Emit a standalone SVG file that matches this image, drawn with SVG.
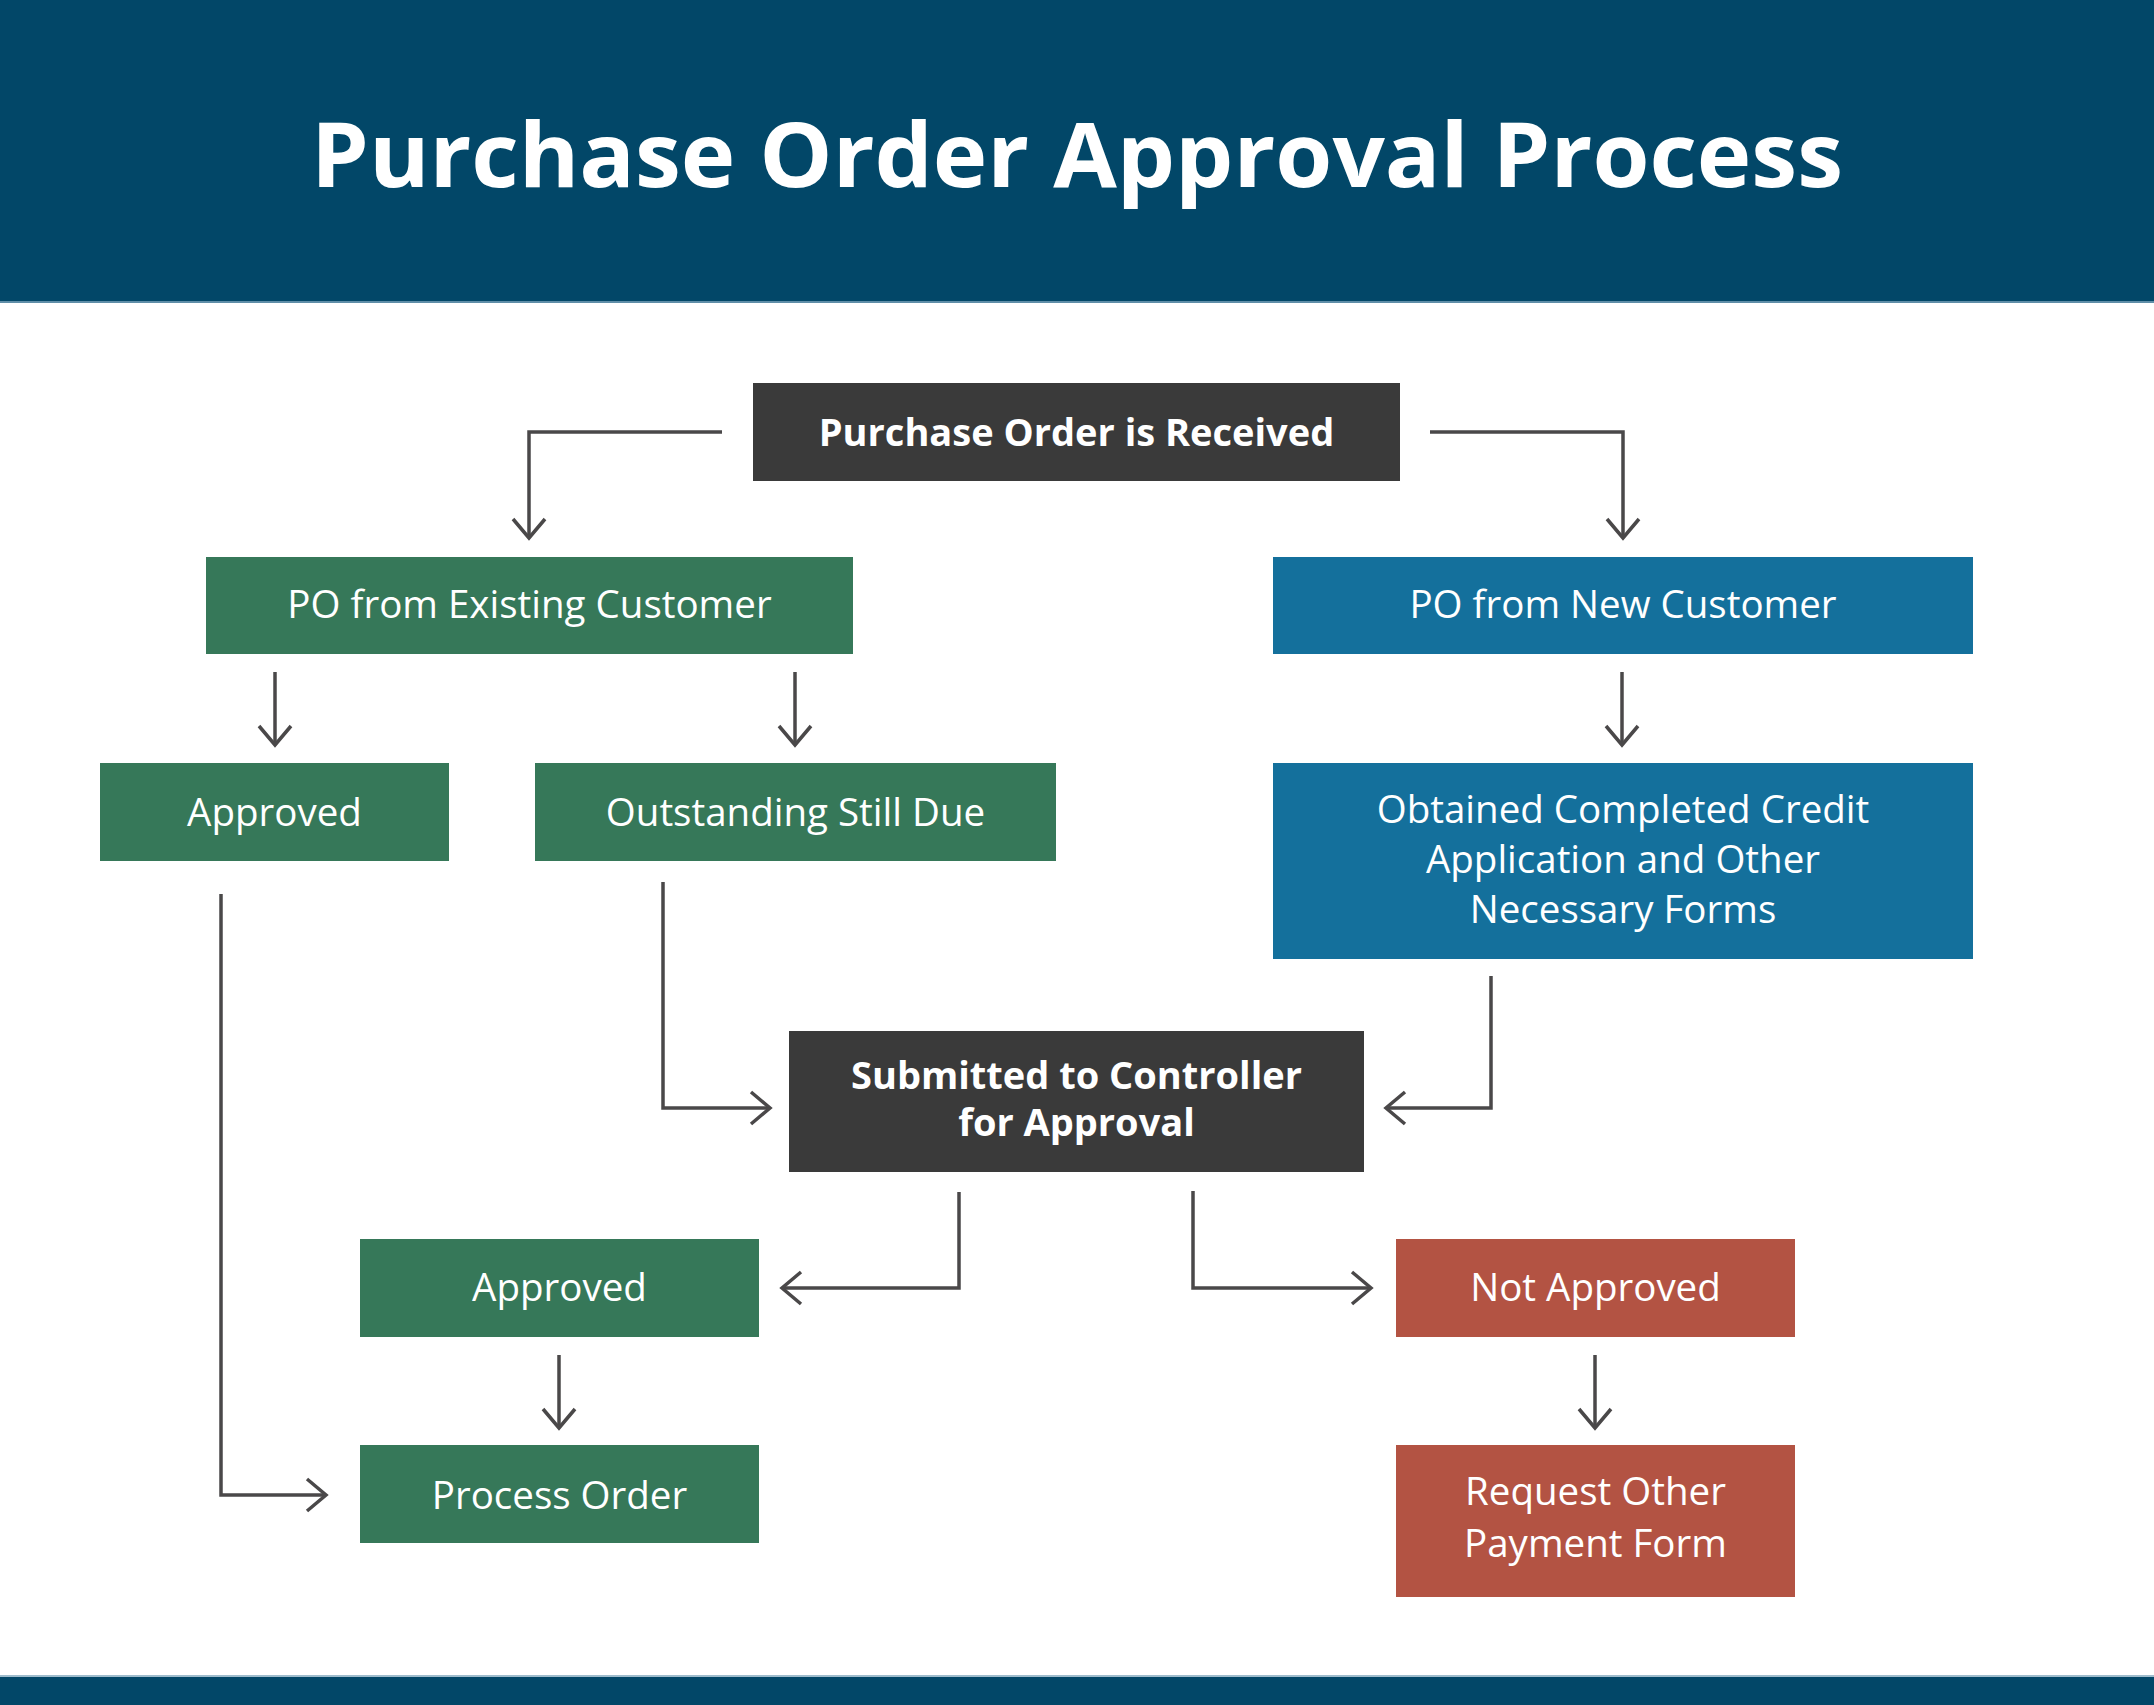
<svg xmlns="http://www.w3.org/2000/svg" width="2154" height="1705" viewBox="0 0 2154 1705">
  <defs>
    <style>
      .t { font-family: "Open Sans", "Liberation Sans", sans-serif; fill: #ffffff; text-anchor: middle; }
      .reg { font-size: 38.5px; font-weight: 400; }
      .bold { font-size: 38px; font-weight: 700; }
      .title { font-size: 90px; font-weight: 700; }
      .green { fill: #367859; }
      .blue { fill: #14709C; }
      .red { fill: #B35343; }
      .dark { fill: #3A3A3A; }
      .conn { fill: none; stroke: #4A4849; stroke-width: 3.5; marker-end: url(#arr); }
    </style>
    <marker id="arr" viewBox="-24 -19 27 38" refX="0" refY="0" markerWidth="27" markerHeight="38" markerUnits="userSpaceOnUse" orient="auto">
      <path d="M-19,-16 L0,0 L-19,16" fill="none" stroke="#4A4849" stroke-width="3.5"/>
    </marker>
  </defs>

  <rect x="0" y="0" width="2154" height="1705" fill="#ffffff"/>

  <g id="header">
    <rect x="0" y="0" width="2154" height="302" fill="#024768"/>
    <rect x="0" y="301" width="2154" height="2" fill="#5f8ea8"/>
    <text class="t title" x="1077" y="187" textLength="1532" lengthAdjust="spacingAndGlyphs">Purchase Order Approval Process</text>
  </g>

  <g id="footer">
    <rect x="0" y="1676" width="2154" height="29" fill="#024768"/>
    <rect x="0" y="1675" width="2154" height="2" fill="#9fbccc"/>
  </g>

  <g id="connectors">
    <path class="conn" d="M722,432 H529 V538"/>
    <path class="conn" d="M1430,432 H1623 V538"/>
    <path class="conn" d="M275,672 V745"/>
    <path class="conn" d="M795,672 V745"/>
    <path class="conn" d="M1622,672 V745"/>
    <path class="conn" d="M221,894 V1495 H326"/>
    <path class="conn" d="M663,882 V1108 H770"/>
    <path class="conn" d="M1491,976 V1108 H1386"/>
    <path class="conn" d="M959,1192 V1288 H782"/>
    <path class="conn" d="M1193,1191 V1288 H1371"/>
    <path class="conn" d="M559,1355 V1428"/>
    <path class="conn" d="M1595,1355 V1428"/>
  </g>

  <g id="po-received">
    <rect class="dark" x="753" y="383" width="647" height="98"/>
    <text class="t bold" x="1076.5" y="446">Purchase Order is Received</text>
  </g>

  <g id="po-existing">
    <rect class="green" x="206" y="557" width="647" height="97"/>
    <text class="t reg" x="529.5" y="618">PO from Existing Customer</text>
  </g>

  <g id="po-new">
    <rect class="blue" x="1273" y="557" width="700" height="97"/>
    <text class="t reg" x="1623" y="618">PO from New Customer</text>
  </g>

  <g id="approved-1">
    <rect class="green" x="100" y="763" width="349" height="98"/>
    <text class="t reg" x="274.5" y="826">Approved</text>
  </g>

  <g id="outstanding">
    <rect class="green" x="535" y="763" width="521" height="98"/>
    <text class="t reg" x="795.5" y="826">Outstanding Still Due</text>
  </g>

  <g id="obtained">
    <rect class="blue" x="1273" y="763" width="700" height="196"/>
    <text class="t reg" x="1623" y="823">Obtained Completed Credit</text>
    <text class="t reg" x="1623" y="873">Application and Other</text>
    <text class="t reg" x="1623" y="923">Necessary Forms</text>
  </g>

  <g id="submitted">
    <rect class="dark" x="789" y="1031" width="575" height="141"/>
    <text class="t bold" x="1076.5" y="1089">Submitted to Controller</text>
    <text class="t bold" x="1076.5" y="1136">for Approval</text>
  </g>

  <g id="approved-2">
    <rect class="green" x="360" y="1239" width="399" height="98"/>
    <text class="t reg" x="559.5" y="1301">Approved</text>
  </g>

  <g id="not-approved">
    <rect class="red" x="1396" y="1239" width="399" height="98"/>
    <text class="t reg" x="1595.5" y="1301">Not Approved</text>
  </g>

  <g id="process-order">
    <rect class="green" x="360" y="1445" width="399" height="98"/>
    <text class="t reg" x="559.5" y="1509">Process Order</text>
  </g>

  <g id="request-other">
    <rect class="red" x="1396" y="1445" width="399" height="152"/>
    <text class="t reg" x="1595.5" y="1505">Request Other</text>
    <text class="t reg" x="1595.5" y="1557">Payment Form</text>
  </g>
</svg>
